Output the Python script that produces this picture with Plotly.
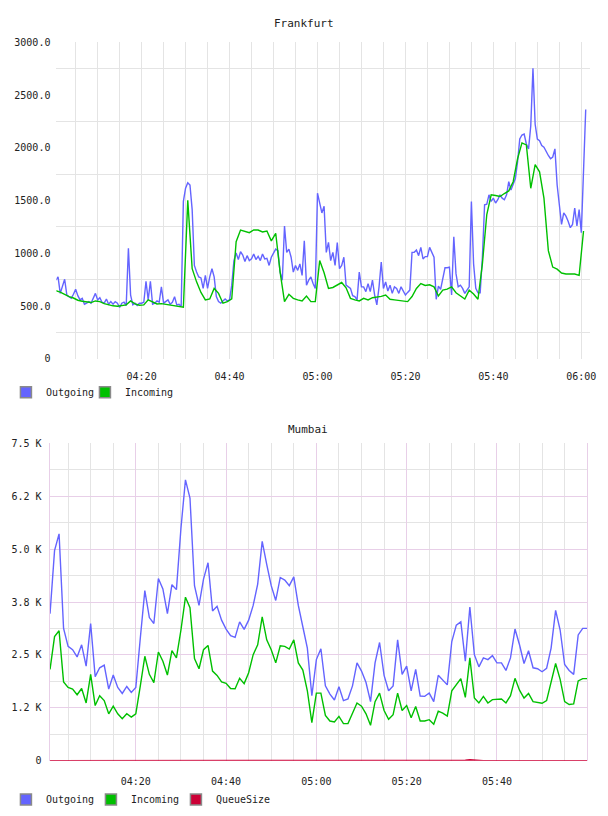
import pandas as pd
import plotly.graph_objects as go

# ---------------- Frankfurt ----------------
fr_outgoing = [
    745, 776, 620, 682, 754, 604, 589, 573, 611, 660,
    598, 558, 573, 517, 527, 542, 527, 579, 620, 558,
    579, 536, 527, 567, 517, 542, 517, 542, 527, 486,
    527, 536, 505, 1047, 604, 511, 527, 505, 527, 527,
    536, 735, 558, 735, 517, 527, 548, 536, 682, 527,
    542, 558, 517, 536, 589, 511, 517, 495, 1492, 1617,
    1670, 1648, 1414, 885, 822, 776, 766, 667, 791, 667,
    776, 854, 776, 589, 542, 527, 548, 567, 548, 558,
    698, 931,
    1003, 941, 1016, 984, 922, 978, 931, 947, 994, 941,
    972, 931, 994, 947, 953, 885, 963, 1009, 1040, 1025,
    822, 745, 1259, 1009, 1040, 963, 822, 885, 838, 900,
    791, 1118, 698, 745, 776, 713, 667, 1570, 1477, 1383,
    1446, 1009, 1103, 931, 1009, 885, 1103, 854, 885, 963,
    698, 682, 667, 598, 589, 558, 822, 682, 682, 636,
    713, 636, 745, 604, 511, 682, 916, 667, 729, 642,
    698, 620, 682, 667, 620, 682, 636, 604, 629, 651,
    1009,
    1009, 1031, 978, 1056, 947, 969, 969, 1056, 1009, 963,
    564, 688, 657, 776, 863, 863, 869, 604, 1156, 807,
    682, 698, 667, 620, 651, 682, 1492, 900, 667, 626,
    626, 963, 1461, 1467, 1555, 1492, 1523, 1477, 1508, 1555,
    1523, 1508, 1555, 1679, 1601, 1648, 1710, 1866, 2084, 2122,
    2131, 2037, 1991, 2209, 2754, 2224, 2084, 2069, 2022, 2006,
    1960, 1928, 1897, 1913, 1991, 1648, 1461, 1274, 1383, 1352,
    1305, 1243, 1274, 1430, 1259, 1414, 1196, 1900, 2365,
]
fr_incoming = [
    645, 632, 611, 589, 576, 555, 545, 536, 533, 548,
    542, 523, 511, 502, 498, 502, 511, 548, 520, 508,
    511, 558, 536, 520, 523, 517, 508, 505, 502, 489,
    1502, 854, 729, 629, 558, 567, 667, 620, 527, 542,
    567, 1110, 1221, 1209, 1196, 1221, 1221, 1203, 1212, 1118,
    1190, 822, 542, 611, 573, 558, 548, 595, 542, 542,
    931, 816, 667, 676, 698, 723, 673, 573, 558, 548,
    573, 558, 579, 583, 592, 604, 564, 558, 555, 548,
    542, 590, 667, 713, 695, 701, 682, 595, 651, 660,
    682, 626, 595, 567, 651, 614, 564, 900, 1368, 1555,
    1548, 1539, 1567, 1592, 1679, 1897, 2047, 2028, 1617, 1841,
    1773, 1523, 1025, 869, 850, 813, 804, 804, 804, 791,
    1212,
]

# ---------------- Mumbai ----------------
mu_outgoing = [
    3477, 4968, 5364, 3128, 2702, 2624, 2453, 2741, 2236, 3245,
    1988, 2197, 2259, 1692, 2026, 1731, 1591, 1755, 1615, 1731,
    2900, 4022, 3384, 3245, 4309, 4060, 3477, 4161, 4045, 5496,
    6638, 6211, 4138, 3672, 4293, 4681, 3540, 3649, 3323, 3113,
    2958, 2915, 3284, 3105, 3323, 3672, 4177, 5186, 4642, 4138,
    3789, 4332, 4270, 4138, 4348, 3672, 3167, 2663, 1537, 2391,
    2647, 1770, 1576, 1436, 1747, 1421, 1459, 1770, 2313, 2119,
    1848, 1397, 2313, 2795, 2018, 1654, 1770, 2857, 2041, 2236,
    1654, 2158, 1530, 1521, 1600, 1397, 2019, 1910, 1793, 2818,
    3207, 3284, 2352, 3633, 2508, 2220, 2430, 2391, 2484, 2313,
    2313, 2135, 2430, 3113, 2741, 2298, 2601, 2197, 2174, 2104,
    2182, 2663, 3555, 3090, 2275, 2135, 2042, 2974, 3128, 3128,
]
mu_incoming = [
    2158, 2935, 3074, 1863, 1731, 1692, 1560, 1708, 1366, 2042,
    1304, 1537, 1421, 1110, 1289, 1110, 994, 1110, 1033, 1110,
    1770, 2469, 2042, 1848, 2570, 2352, 2026, 2601, 2430, 3090,
    3866, 3618, 2414, 2174, 2624, 2725, 2119, 2018, 1863, 1832,
    1708, 1700, 1949, 1824, 2081, 2508, 2741, 3400, 2857, 2624,
    2313, 2717, 2702, 2640, 2857, 2313, 2143, 1654, 900, 1599,
    1599, 1071, 939, 916, 1048, 877, 877, 1110, 1366, 1289,
    1110, 838, 1397, 1599, 1188, 978, 1087, 1599, 1188, 1304,
    1017, 1281, 939, 939, 970, 862, 1172, 1126, 1056, 1654,
    1809, 1941, 1498, 2430, 1483, 1366, 1521, 1366, 1444, 1459,
    1459, 1366, 1537, 1948, 1669, 1483, 1592, 1397, 1382, 1358,
    1421, 1848, 2298, 1925, 1397, 1328, 1343, 1887, 1941, 1941,
]
mu_queuesize = [0] * 92 + [10, 20, 10] + [0] * 25

fr_y_ticks = [0, 500, 1000, 1500, 2000, 2500, 3000]
fr_y_labels = ["0", "500.0", "1000.0", "1500.0", "2000.0", "2500.0", "3000.0"]
mu_y_ticks = [0, 1250, 2500, 3750, 5000, 6250, 7500]
mu_y_labels = ["0", "1.2 K", "2.5 K", "3.8 K", "5.0 K", "6.2 K", "7.5 K"]

DAY = "2024-01-01 "
fr_out_t = pd.date_range(DAY + "04:00:30", periods=len(fr_outgoing), freq="30s")
fr_in_t = pd.date_range(DAY + "04:00:30", periods=len(fr_incoming), freq="60s")
mu_t = pd.date_range(DAY + "04:01:00", periods=len(mu_outgoing), freq="60s")

BLUE = "#6464ff"
GREEN = "#00c000"
RED = "#cc0036"
FONT = "DejaVu Sans Mono"
GRID = "#e4e4e4"
PINK = "#e8cfe8"
CLEAR = "rgba(0,0,0,0)"

W, H = 608, 816


def px(x):
    return x / W


def py(y):
    return 1 - y / H


fig = go.Figure()
fig.add_trace(go.Scatter(x=fr_out_t, y=fr_outgoing, mode="lines", line=dict(color=BLUE, width=1.4),
                         xaxis="x", yaxis="y", showlegend=False))
fig.add_trace(go.Scatter(x=fr_in_t, y=fr_incoming, mode="lines", line=dict(color=GREEN, width=1.4),
                         xaxis="x", yaxis="y", showlegend=False))
fig.add_trace(go.Scatter(x=mu_t, y=mu_outgoing, mode="lines", line=dict(color=BLUE, width=1.4),
                         xaxis="x2", yaxis="y2", showlegend=False))
fig.add_trace(go.Scatter(x=mu_t, y=mu_incoming, mode="lines", line=dict(color=GREEN, width=1.4),
                         xaxis="x2", yaxis="y2", showlegend=False))
fig.add_trace(go.Scatter(x=mu_t, y=mu_queuesize, mode="lines", line=dict(color=RED, width=1.6),
                         xaxis="x2", yaxis="y2", showlegend=False))


# legend entries (square swatches)
def swatch(name, color, legend, xa, ya, border="#8a8a8a"):
    fig.add_trace(go.Scatter(x=[None], y=[None], mode="markers", name=name, legend=legend,
                             xaxis=xa, yaxis=ya, hoverinfo="skip",
                             marker=dict(symbol="square", size=11, color=color,
                                         line=dict(color=border, width=1.5))))


swatch("Outgoing", BLUE, "legend", "x", "y")
swatch("Incoming", GREEN, "legend", "x", "y")
swatch(" ", CLEAR, "legend", "x", "y", border=CLEAR)
swatch("Outgoing", BLUE, "legend2", "x2", "y2")
swatch("Incoming", GREEN, "legend2", "x2", "y2")
swatch("QueueSize", RED, "legend2", "x2", "y2")
swatch(" ", CLEAR, "legend2", "x2", "y2", border=CLEAR)

tickfont = dict(family=FONT, size=10, color="#222")

fig.update_layout(
    width=W, height=H,
    margin=dict(l=0, r=0, t=0, b=0),
    paper_bgcolor="white", plot_bgcolor="white",
    font=dict(family=FONT, size=10, color="#222"),
    xaxis=dict(
        domain=[px(57), px(596)],
        range=[DAY + "04:00:38", DAY + "06:02:00"],
        tickmode="linear", tick0=DAY + "04:00", dtick=20 * 60 * 1000, tickformat="%H:%M",
        showgrid=True, gridcolor=GRID, gridwidth=1, zeroline=False, showline=False,
        ticks="", ticklabelstandoff=10, tickfont=tickfont,
        minor=dict(tick0=DAY + "04:00", dtick=5 * 60 * 1000, showgrid=True, gridcolor=GRID),
        anchor="y", fixedrange=True,
    ),
    yaxis=dict(
        domain=[py(358), py(37)],
        range=[0, 3000],
        tickmode="array", tickvals=fr_y_ticks, ticktext=fr_y_labels,
        showgrid=False, zeroline=False, showline=False, ticks="",
        ticklabelstandoff=5, tickfont=tickfont,
        minor=dict(tickmode="array", tickvals=[250, 750, 1250, 1750, 2250, 2750],
                   showgrid=True, gridcolor=GRID),
        anchor="x", fixedrange=True,
    ),
    xaxis2=dict(
        domain=[px(50), px(593)],
        range=[DAY + "04:00:53", DAY + "05:59:59"],
        tickmode="linear", tick0=DAY + "04:00", dtick=20 * 60 * 1000, tickformat="%H:%M",
        showgrid=True, gridcolor=PINK, gridwidth=1, zeroline=False, showline=False,
        ticks="", ticklabelstandoff=13, tickfont=tickfont,
        minor=dict(tick0=DAY + "04:00", dtick=5 * 60 * 1000, showgrid=True, gridcolor=GRID),
        anchor="y2", fixedrange=True,
    ),
    yaxis2=dict(
        domain=[py(766), py(444)],
        range=[0, 7500],
        tickmode="array", tickvals=mu_y_ticks, ticktext=mu_y_labels,
        showgrid=True, gridcolor=PINK, zeroline=False,
        showline=True, mirror=True, linecolor=PINK, linewidth=1,
        ticks="", ticklabelstandoff=5, tickfont=tickfont,
        minor=dict(tickmode="array", tickvals=[625, 1875, 3125, 4375, 5625, 6875],
                   showgrid=True, gridcolor=GRID),
        anchor="x2", fixedrange=True,
    ),
    legend=dict(orientation="h", x=px(6), y=py(392), xanchor="left", yanchor="middle",
                font=dict(family=FONT, size=10, color="#222"), entrywidth=34,
                bgcolor=CLEAR, itemclick=False),
    legend2=dict(orientation="h", x=px(6), y=-0.005, xanchor="left", yanchor="bottom",
                 font=dict(family=FONT, size=10, color="#222"), entrywidth=40,
                 bgcolor=CLEAR, itemclick=False),
    annotations=[
        dict(text="Frankfurt", x=px(307), y=py(18), xref="paper", yref="paper",
             xanchor="center", yanchor="middle",
             showarrow=False, font=dict(family=FONT, size=11, color="#222")),
        dict(text="Mumbai", x=px(311), y=py(430), xref="paper", yref="paper",
             xanchor="center", yanchor="middle",
             showarrow=False, font=dict(family=FONT, size=11, color="#222")),
    ],
)

fig.write_html("out.html")
